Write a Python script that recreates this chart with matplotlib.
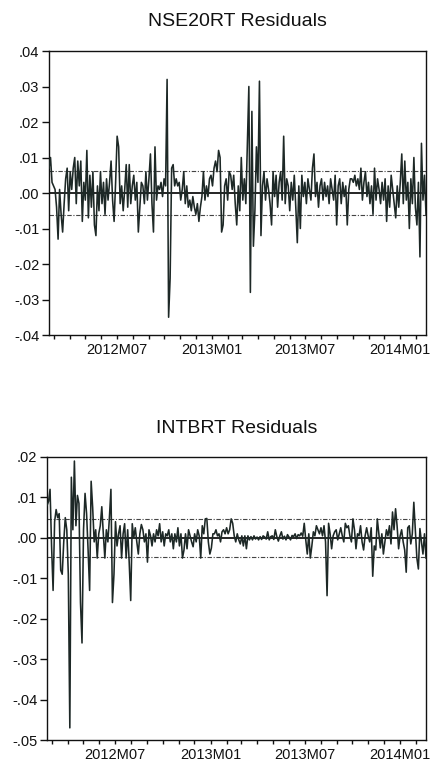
import numpy as np
import pandas as pd
import matplotlib
matplotlib.use("Agg")
import matplotlib.pyplot as plt
import matplotlib.dates as mdates
from matplotlib.ticker import FuncFormatter, MultipleLocator

plt.rcParams['font.family'] = ['Liberation Sans', 'DejaVu Sans']

# ---- data (residuals in per-mille units) ----
start_date = "2012-02-21"
end_date = "2014-02-20"

nse20rt_resid_milli = [
    7, 10, 3, 2, 1, -4, -13, 1, -6, -11,
    -3, 4, 7, -5, 6, 1, 7, 10, -3, 9,
    2, 9, -8, 3, -2, 12, -7, 5, -4, 6,
    -9, -12, 2, -5, 6, -3, 3, -6, 4, -2,
    3, 9, -2, -8, 3, 16, 13, -3, 2, -5,
    1, 8, -4, 8, -3, 2, 5, -2, 3, -11,
    -4, 3, 2, -3, 6, -2, 4, 11, -3, -11,
    13, -2, 2, 1, 3, -1, 4, 2, 32, -35,
    -24, 7, 8, 2, 4, 2, 3, -2, 1, 6,
    -3, 2, -4, -2, -5, -1, -4, -6, -3, -8,
    -4, -1, 6, -2, 2, -1, 4, 5, 2, 7,
    9, 6, 12, 10, -11, -9, 2, 4, -2, 6,
    5, 1, 5, -3, -9, 2, -5, 10, -2, 4,
    -3, 14, 30, -28, 23, -15, -5, 13, 3, 31.5,
    -12, 2, 6, -2, 4, 1, -3, -9, 6, -1,
    5, -4, 3, 6, -2, 16, -3, 4, 2, -5,
    3, -2, 5, -4, -14, 2, -10, 5, -1, 3,
    -3, 4, 1, -2, 7, 11, -1, 3, -4, 2,
    4, -2, 3, -1, 2, -3, 4, 1, -2, 5,
    -9, 2, 4, -3, 3, -1, 2, -9, 1, 4,
    4, 3, 5, 2, 4, 1, 7, -2, 3, 6,
    -1, 3, -3, 2, -6, 7, -2, 4, 1, -3,
    3, -2, 4, -8, 2, -4, 5, 1, -3, -7,
    2, -4, 3, 11, -3, 9, -2, 3, -10, 4,
    -3, 10, -4, -9, 3, -18, 14, -2, 5, -6,
]

intbrt_resid_milli = [
    8, 9, 12, -2, -13, 4, 7, 5, 6, -8,
    -9, -1, 5, 2, -9, -47, 15, 2, 19, 3,
    10.5, 8.5, -16, -26, 2, 11, 6, -3, -13, 14,
    7.5, -1, 2, -5, 1, 3, 7.7, 1, -5, 2,
    -1, 5, 12, -16, -9, 4, -2, 1, 3, -5,
    1, 3.5, -5, 2, -6, -15.5, 3.5, 0, 2.5, -1,
    -4, 1, 3.3, 2, -1, 1, -6, 2, 0.5, -2,
    1, -1, 2, 0.5, 3.5, -1, 1.5, -2, 1, 0.5,
    2, -1, 1, -2.7, 1, -1, 2.5, -2, 1, -5,
    -3, 1, -2.7, 2, 0.5, -1, -2.2, 1, -1, 2,
    0.5, -5, 3, 1, 4.7, 4.8, -1, -4, -2.5, 1,
    1, 2, 0.5, 1, -1, 1.5, 2, 1, 2.5, 1,
    2, 4.7, 3.6, 0.5, -1, 1, -0.5, -1.5, 0.5, -2,
    0.5, -2.7, 0.5, -0.5, 0.3, -0.5, 0.5, -0.3, 0.2, -0.5,
    0.3, -0.4, 0.5, 0.2, -0.3, 1.5, -0.5, 0.3, 0.5, -0.4,
    2, 0.3, -0.8, 0.5, 1.5, -0.3, 0.4, -0.5, 0.8, 0.2,
    -0.5, 0.6, 0.3, 1, -0.2, 0.8, 0.5, 1.2, 0.4, 3.6,
    -0.5, -4, 1, -5, -2, 1.5, 0.5, 3, 2, 1,
    2.5, 0.5, 3, -1, -14.3, 3.6, 1, -2.7, 0.5, 1.5,
    2, -0.5, 1, 2.5, 0.5, -1, 3.6, 2.5, 3, 0.5,
    -1, 4.7, 2, -2.7, 1, 0.5, 3, -1, -3, 0.5,
    2.5, 0.5, -1, 2.5, -9.5, -2, -3, 4.7, 1, -2.5,
    1, -4, -1, 2, 0.5, 3, -1.5, 6.4, 2, 7.2,
    3, -2.7, 0.5, 2, -1, -3, -8.5, 2.5, 3, -1.5,
    1, 8.8, 2, -5, -7.7, 2.3, -1, -4, 1, -5,
]

nse20rt_band = 0.0062   # +/- standard error band
intbrt_band = 0.0047

titles = ["NSE20RT Residuals", "INTBRT Residuals"]
ylims = [(-0.04, 0.04), (-0.05, 0.02)]

# ---- figure ----
W, H = 432, 769
fig = plt.figure(figsize=(W / 100, H / 100), dpi=100)
fig.patch.set_facecolor("white")

def px_axes(l, r, t, b):
    return fig.add_axes([l / W, 1 - b / H, (r - l) / W, (b - t) / H])

axes = [px_axes(49, 426, 51, 335), px_axes(47, 426, 457, 740)]
series = [np.array(nse20rt_resid_milli) / 1000.0, np.array(intbrt_resid_milli) / 1000.0]
bands = [nse20rt_band, intbrt_band]
title_y = [21, 429]

def yfmt(v, pos):
    s = f"{v:.2f}"
    s = s.replace("0.", ".", 1)
    if s == "-.00":
        s = ".00"
    return s

def xfmt(v, pos):
    d = mdates.num2date(v)
    return f"{d.year}M{d.month:02d}"

for ax, y, band, ttl, ty, yl in zip(axes, series, bands, titles, title_y, ylims):
    dates = pd.date_range(start_date, end_date, periods=len(y))
    ax.axhline(0, color="black", lw=1.2, zorder=2)
    ax.axhline(band, color="#444444", lw=0.8, ls=(0, (4, 1.5, 1, 1.5)), zorder=1)
    ax.axhline(-band, color="#444444", lw=0.8, ls=(0, (4, 1.5, 1, 1.5)), zorder=1)
    ax.plot(dates, y, color="#1d2826", lw=1.15, zorder=3)
    ax.set_xlim(dates[0], dates[-1])
    ax.set_ylim(*yl)
    ax.yaxis.set_major_locator(MultipleLocator(0.01))
    ax.yaxis.set_major_formatter(FuncFormatter(yfmt))
    ax.xaxis.set_major_locator(mdates.MonthLocator(bymonth=[1, 7]))
    ax.xaxis.set_minor_locator(mdates.MonthLocator())
    ax.xaxis.set_major_formatter(FuncFormatter(xfmt))
    ax.tick_params(axis="y", direction="out", length=5, width=1, labelsize=10.5, pad=2, colors="#111111")
    ax.tick_params(axis="x", which="both", direction="out", length=3, width=1, labelsize=10.5, pad=3, colors="#111111")
    for s in ax.spines.values():
        s.set_linewidth(1.0)
        s.set_color("#111111")
    cx = (ax.get_position().x0 + ax.get_position().x1) / 2
    fig.text(cx, 1 - ty / H, ttl, ha="center", va="center", fontsize=14, color="#111111")

fig.savefig("out.png", dpi=100, facecolor="white")
